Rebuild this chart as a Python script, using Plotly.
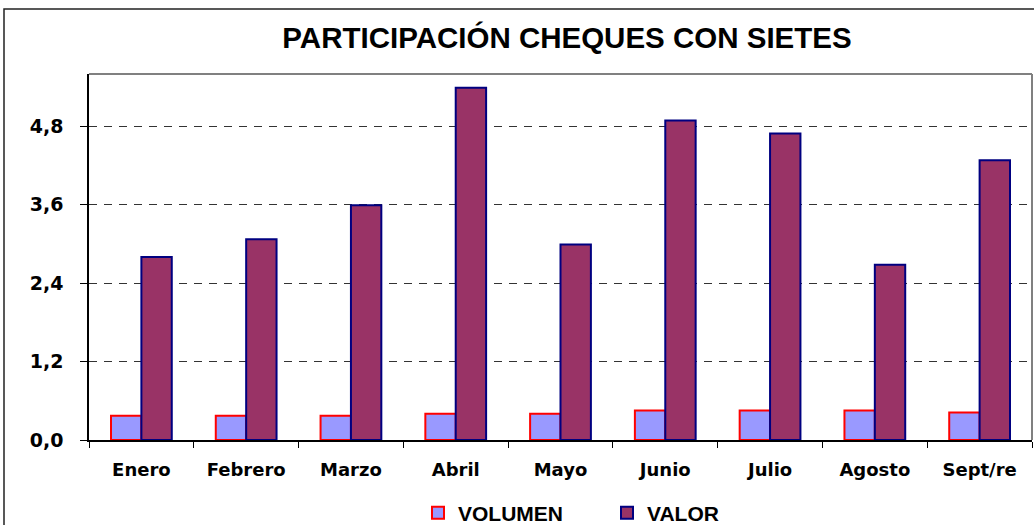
import plotly.graph_objects as go

categories = ["Enero", "Febrero", "Marzo", "Abril", "Mayo", "Junio", "Julio", "Agosto", "Sept/re"]
volumen = [0.37, 0.37, 0.37, 0.40, 0.40, 0.45, 0.45, 0.45, 0.42]
valor = [2.80, 3.07, 3.59, 5.39, 2.99, 4.89, 4.69, 2.68, 4.28]
y_ticks = [0.0, 1.2, 2.4, 3.6, 4.8]

W, H = 1034, 525
L, R, T, B = 89, 2, 74, 85
pw = W - L - R
ph = H - T - B

fig = go.Figure()
fig.add_trace(go.Bar(name="VOLUMEN", x=categories, y=volumen,
                     marker=dict(color="#9999FF", line=dict(color="#FF0000", width=2))))
fig.add_trace(go.Bar(name="VALOR", x=categories, y=valor,
                     marker=dict(color="#993366", line=dict(color="#000080", width=2))))

def px_x(p):
    return (p - L) / pw

def px_y(p):
    return (H - B - p) / ph

ARIAL = "Liberation Sans, Arial, sans-serif"
DEJA = "DejaVu Sans, Verdana, sans-serif"

fig.update_layout(
    width=W, height=H,
    margin=dict(l=L, r=R, t=T, b=B, pad=0, autoexpand=False),
    paper_bgcolor="white", plot_bgcolor="white",
    separators=",.",
    barmode="group", bargap=0.42, bargroupgap=0,
    font=dict(family=ARIAL, color="black"),
    title=dict(text="PARTICIPACIÓN CHEQUES CON SIETES", x=567 / W, xanchor="center",
               y=1 - 38 / H, yanchor="middle",
               font=dict(size=29.5, color="black", family=ARIAL, weight="bold")),
    showlegend=True,
    legend=dict(orientation="h", x=px_x(418), xanchor="left", y=px_y(513), yanchor="middle",
                font=dict(size=21, family=ARIAL, weight="bold"), entrywidth=144,
                entrywidthmode="pixels", bgcolor="rgba(0,0,0,0)", traceorder="normal"),
    xaxis=dict(type="category", tickson="boundaries", ticks="outside", ticklen=6,
               tickcolor="black", showline=True, linecolor="black", linewidth=1.5,
               showgrid=False, tickfont=dict(size=18, family=DEJA, weight="bold"),
               ticklabelstandoff=13, fixedrange=True),
    yaxis=dict(range=[0, 5.6], tickvals=y_ticks, tickformat=".1f", ticks="outside",
               ticklen=7, tickcolor="black", showline=True, linecolor="black",
               linewidth=1.5, showgrid=True, gridcolor="#333333", griddash="8px,7px",
               gridwidth=1, zeroline=False,
               tickfont=dict(size=19, family=DEJA, weight="bold"),
               ticklabelstandoff=13, fixedrange=True),
    shapes=[
        dict(type="rect", xref="paper", yref="paper", x0=px_x(4), x1=px_x(1045),
             y0=px_y(540), y1=px_y(9), line=dict(color="#222222", width=1.5),
             fillcolor="rgba(0,0,0,0)", layer="below"),
        dict(type="line", xref="paper", yref="paper", x0=0, x1=1, y0=1, y1=1,
             line=dict(color="#808080", width=2)),
        dict(type="line", xref="paper", yref="paper", x0=1, x1=1, y0=0, y1=1,
             line=dict(color="#808080", width=2)),
    ],
)

fig.write_html("out.html", config={"displayModeBar": False},
               post_script="document.body.style.margin='0px';")
